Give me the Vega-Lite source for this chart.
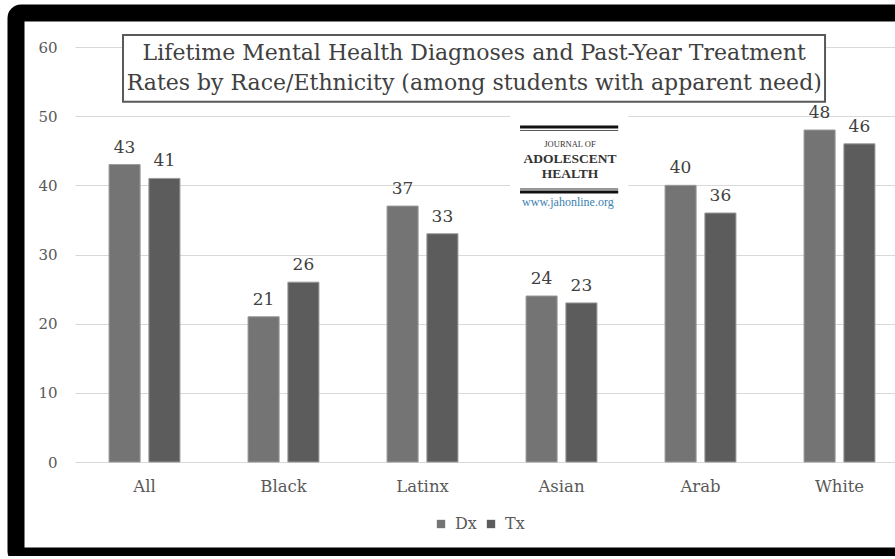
{
  "$schema": "https://vega.github.io/schema/vega-lite/v6.json",
  "autosize": "none",
  "width": 905,
  "height": 543,
  "padding": {"left": 16, "top": 13, "right": -26, "bottom": 0},
  "background": "white",
  "config": {
    "view": {"fill": "white", "stroke": "black", "strokeWidth": 17, "cornerRadius": 5},
    "font": "DejaVu Serif"
  },
  "data": {
    "values": [
      {"race": "All", "measure": "Dx", "value": 43},
      {"race": "All", "measure": "Tx", "value": 41},
      {"race": "Black", "measure": "Dx", "value": 21},
      {"race": "Black", "measure": "Tx", "value": 26},
      {"race": "Latinx", "measure": "Dx", "value": 37},
      {"race": "Latinx", "measure": "Tx", "value": 33},
      {"race": "Asian", "measure": "Dx", "value": 24},
      {"race": "Asian", "measure": "Tx", "value": 23},
      {"race": "Arab", "measure": "Dx", "value": 40},
      {"race": "Arab", "measure": "Tx", "value": 36},
      {"race": "White", "measure": "Dx", "value": 48},
      {"race": "White", "measure": "Tx", "value": 46}
    ]
  },
  "layer": [
    {
      "mark": {"type": "bar", "stroke": "#9a9a9a", "strokeWidth": 1},
      "encoding": {
        "x": {
          "field": "race",
          "type": "nominal",
          "scale": {
            "domain": ["All", "Black", "Latinx", "Asian", "Arab", "White"],
            "range": [59, 893],
            "paddingInner": 0.49,
            "paddingOuter": 0.245
          },
          "axis": {
            "title": null,
            "domain": false,
            "ticks": false,
            "grid": false,
            "offset": -94,
            "labelPadding": 16,
            "labelFont": "DejaVu Serif",
            "labelFontSize": 16.5,
            "labelColor": "#595959",
            "labelAngle": 0
          }
        },
        "y": {
          "field": "value",
          "type": "quantitative",
          "scale": {"domain": [0, 60], "range": [449, 34], "nice": false},
          "axis": {
            "title": null,
            "domain": false,
            "ticks": false,
            "grid": true,
            "gridColor": "#d9d9d9",
            "gridWidth": 1.2,
            "values": [0, 10, 20, 30, 40, 50, 60],
            "offset": -47,
            "labelPadding": 6,
            "labelFont": "DejaVu Serif",
            "labelFontSize": 15,
            "labelColor": "#595959"
          }
        },
        "xOffset": {"field": "measure", "type": "nominal", "sort": ["Dx", "Tx"], "scale": {"paddingInner": 0.22}},
        "color": {
          "field": "measure",
          "type": "nominal",
          "scale": {"domain": ["Dx", "Tx"], "range": ["#747474", "#5c5c5c"]},
          "legend": {
            "title": null,
            "orient": "none",
            "legendX": 417,
            "legendY": 503,
            "direction": "horizontal",
            "symbolType": "square",
            "symbolSize": 70,
            "symbolStrokeWidth": 0,
            "labelFont": "DejaVu Serif",
            "labelFontSize": 16,
            "labelColor": "#595959",
            "labelOffset": 6,
            "columnPadding": 6,
            "padding": 0
          }
        }
      }
    },
    {
      "mark": {"type": "text", "baseline": "bottom", "dy": -8, "fontSize": 17, "color": "#404040", "font": "DejaVu Serif"},
      "encoding": {
        "x": {"field": "race", "type": "nominal"},
        "y": {"field": "value", "type": "quantitative"},
        "xOffset": {"field": "measure", "type": "nominal", "sort": ["Dx", "Tx"]},
        "text": {"field": "value", "type": "quantitative"}
      }
    },
    {
      "data": {"values": [{"a": 1}]},
      "mark": {"type": "rect", "fill": "white", "stroke": "#595959", "strokeWidth": 2},
      "encoding": {
        "x": {"datum": "All", "type": "nominal", "bandPosition": 0.197},
        "x2": {"datum": "White", "bandPosition": 0.296},
        "y": {"datum": 61.73, "type": "quantitative"},
        "y2": {"datum": 52.1}
      }
    },
    {
      "data": {"values": [{"a": 1}]},
      "mark": {"type": "text", "text": "Lifetime Mental Health Diagnoses and Past-Year Treatment", "fontSize": 22, "color": "#404040", "baseline": "middle", "align": "center", "font": "DejaVu Serif"},
      "encoding": {"x": {"datum": "Latinx", "type": "nominal", "bandPosition": 1.23}, "y": {"datum": 59.13, "type": "quantitative"}}
    },
    {
      "data": {"values": [{"a": 1}]},
      "mark": {"type": "text", "text": "Rates by Race/Ethnicity (among students with apparent need)", "fontSize": 22, "color": "#404040", "baseline": "middle", "align": "center", "font": "DejaVu Serif"},
      "encoding": {"x": {"datum": "Latinx", "type": "nominal", "bandPosition": 1.23}, "y": {"datum": 54.79, "type": "quantitative"}}
    },
    {
      "data": {"values": [{"a": 1}]},
      "mark": {"type": "rect", "fill": "white"},
      "encoding": {
        "x": {"datum": "Asian", "type": "nominal", "bandPosition": -0.226},
        "x2": {"datum": "Asian", "bandPosition": 1.44},
        "y": {"datum": 50.45, "type": "quantitative"},
        "y2": {"datum": 36.14}
      }
    },
    {
      "data": {"values": [{"a": 1}]},
      "mark": {"type": "rule", "color": "#111111", "strokeWidth": 3},
      "encoding": {"x": {"datum": "Asian", "type": "nominal", "bandPosition": -0.085}, "x2": {"datum": "Asian", "bandPosition": 1.3}, "y": {"datum": 48.43, "type": "quantitative"}}
    },
    {
      "data": {"values": [{"a": 1}]},
      "mark": {"type": "rule", "color": "#555555", "strokeWidth": 1},
      "encoding": {"x": {"datum": "Asian", "type": "nominal", "bandPosition": -0.085}, "x2": {"datum": "Asian", "bandPosition": 1.3}, "y": {"datum": 47.93, "type": "quantitative"}}
    },
    {
      "data": {"values": [{"a": 1}]},
      "mark": {"type": "rule", "color": "#333333", "strokeWidth": 1},
      "encoding": {"x": {"datum": "Asian", "type": "nominal", "bandPosition": -0.085}, "x2": {"datum": "Asian", "bandPosition": 1.3}, "y": {"datum": 39.47, "type": "quantitative"}}
    },
    {
      "data": {"values": [{"a": 1}]},
      "mark": {"type": "rule", "color": "#111111", "strokeWidth": 3},
      "encoding": {"x": {"datum": "Asian", "type": "nominal", "bandPosition": -0.085}, "x2": {"datum": "Asian", "bandPosition": 1.3}, "y": {"datum": 39.03, "type": "quantitative"}}
    },
    {
      "data": {"values": [{"a": 1}]},
      "mark": {"type": "text", "text": "JOURNAL OF", "fontSize": 8.5, "color": "#333333", "baseline": "middle", "align": "center", "font": "Liberation Serif"},
      "encoding": {"x": {"datum": "Asian", "type": "nominal", "bandPosition": 0.62}, "y": {"datum": 45.97, "type": "quantitative"}}
    },
    {
      "data": {"values": [{"a": 1}]},
      "mark": {"type": "text", "text": "ADOLESCENT", "fontSize": 13.5, "fontWeight": "bold", "color": "#333333", "baseline": "middle", "align": "center", "font": "Liberation Serif"},
      "encoding": {"x": {"datum": "Asian", "type": "nominal", "bandPosition": 0.62}, "y": {"datum": 43.8, "type": "quantitative"}}
    },
    {
      "data": {"values": [{"a": 1}]},
      "mark": {"type": "text", "text": "HEALTH", "fontSize": 13.5, "fontWeight": "bold", "color": "#333333", "baseline": "middle", "align": "center", "font": "Liberation Serif"},
      "encoding": {"x": {"datum": "Asian", "type": "nominal", "bandPosition": 0.62}, "y": {"datum": 41.64, "type": "quantitative"}}
    },
    {
      "data": {"values": [{"a": 1}]},
      "mark": {"type": "text", "text": "www.jahonline.org", "fontSize": 12, "color": "#3c7fb1", "baseline": "middle", "align": "center", "font": "Liberation Serif"},
      "encoding": {"x": {"datum": "Asian", "type": "nominal", "bandPosition": 0.59}, "y": {"datum": 37.59, "type": "quantitative"}}
    }
  ]
}
